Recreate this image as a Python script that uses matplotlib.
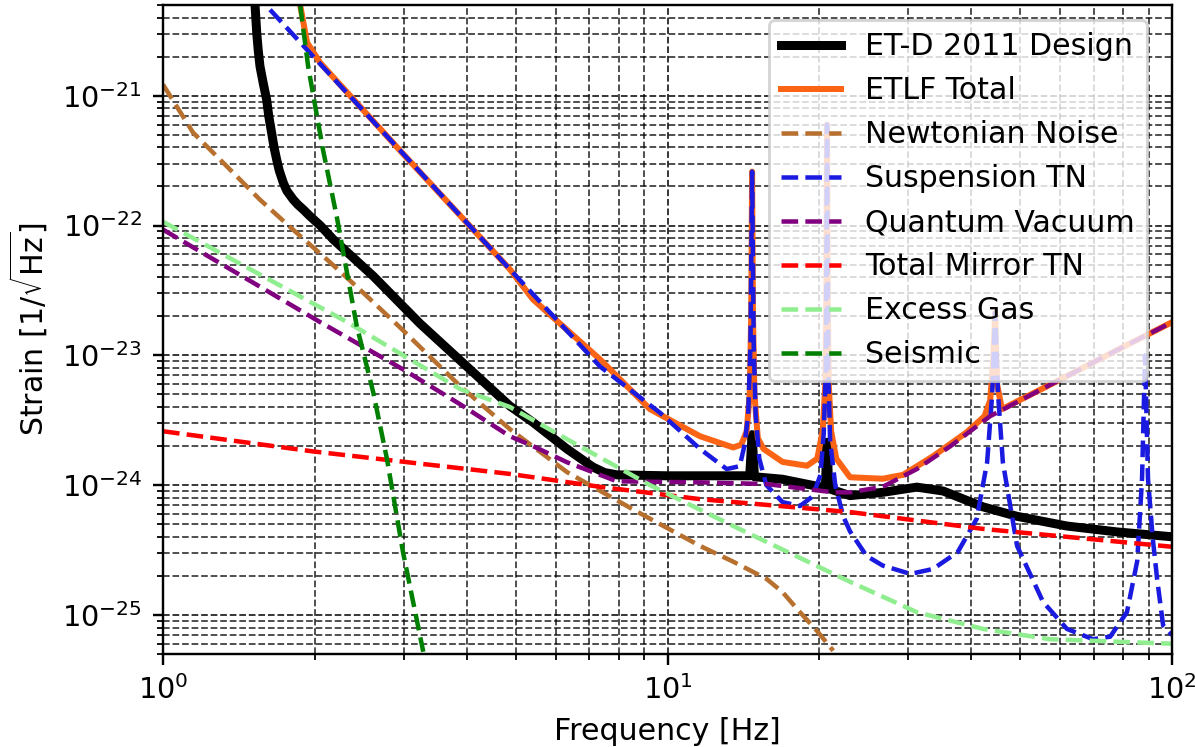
import matplotlib
matplotlib.use("Agg")
import matplotlib.pyplot as plt

# ET-D 2011 design sensitivity
etd_f = [1.522, 1.534, 1.545, 1.557, 1.58, 1.605, 1.62, 1.642, 1.66, 1.680, 1.70, 1.732,
         1.76, 1.813, 1.85, 1.90, 1.956, 2.05, 2.176, 2.612, 3.23, 4.87, 5.41, 6.32,
         7.11, 7.5, 7.94, 9.97, 13.5, 14.55, 14.71, 14.87, 16.9, 19.8, 20.55, 20.71,
         20.87, 23.0, 26.7, 31.2, 35.2, 42.2, 49.3, 61.9, 77.8, 100]
etd_h = [5.0e-21, 3.03e-21, 2.2e-21, 1.68e-21, 1.25e-21, 9.3e-22, 7.0e-22, 5.16e-22,
         4.0e-22, 3.22e-22, 2.65e-22, 2.13e-22, 1.85e-22, 1.58e-22, 1.45e-22, 1.32e-22,
         1.18e-22, 1.0e-22, 7.8e-23, 4.07e-23, 1.76e-23, 4.07e-24, 3.05e-24, 1.9e-24,
         1.38e-24, 1.25e-24, 1.2e-24, 1.18e-24, 1.18e-24, 1.18e-24, 2.45e-24, 1.16e-24,
         1.11e-24, 9.8e-25, 9.6e-25, 2.14e-24, 9.4e-25, 8.3e-25, 8.8e-25, 9.65e-25,
         9.0e-25, 6.8e-25, 5.75e-25, 4.84e-25, 4.36e-25, 4.0e-25]

# ETLF total
etlf_f = [1.87, 1.93, 2.05, 3.0, 4.87, 5.41, 7.35, 9.23, 11.6, 13.5, 14.0, 14.35, 14.55,
          14.65, 14.71, 14.77, 14.87, 15.1, 15.5, 16.9, 18.9, 19.8, 20.3, 20.55, 20.65,
          20.71, 20.77, 20.87, 21.1, 21.6, 23.0, 26.7, 29.3, 33.6, 39.2, 42.5, 43.6, 44.2,
          44.6, 45.0, 46.0, 60.0, 80.0, 100]
etlf_h = [5.0e-21, 2.57e-21, 1.79e-21, 3.52e-22, 4.6e-23, 2.7e-23, 9.3e-24, 3.85e-24,
          2.38e-24, 1.95e-24, 2.05e-24, 2.6e-24, 5.0e-24, 2.0e-23, 2.6e-22, 2.0e-23,
          5.0e-24, 2.3e-24, 1.9e-24, 1.51e-24, 1.41e-24, 1.6e-24, 2.6e-24, 6.0e-24,
          3.0e-23, 6.0e-22, 3.0e-23, 6.0e-24, 2.6e-24, 1.6e-24, 1.15e-24, 1.12e-24,
          1.2e-24, 1.67e-24, 2.56e-24, 3.4e-24, 4.5e-24, 9.0e-24, 2.14e-23, 6.0e-24,
          3.85e-24, 6.5e-24, 1.16e-23, 1.8e-23]

# Newtonian noise
nn_f = [1.0, 1.147, 1.339, 1.557, 1.81, 2.11, 2.458, 2.95, 3.88, 4.87, 6.32, 8.54, 11.6,
        13.5, 15.7, 16.9, 18.3, 19.8, 21.3]
nn_h = [1.22e-21, 5.2e-22, 2.85e-22, 1.58e-22, 9.3e-23, 5.5e-23, 3.2e-23, 1.64e-23,
        5.8e-24, 2.7e-24, 1.26e-24, 6.5e-25, 3.4e-25, 2.57e-25, 1.9e-25, 1.5e-25, 1.05e-25,
        7.5e-26, 5.3e-26]

# Suspension thermal noise
sus_f = [1.63, 4.87, 7.35, 9.67, 11.6, 13.1, 13.9, 14.2, 14.45, 14.6, 14.71, 14.82, 14.95,
         15.2, 15.7, 16.9, 18.3, 19.4, 20.1, 20.4, 20.6, 20.71, 20.82, 21.0, 21.5, 22.3,
         23.0, 24.8, 26.7, 30.3, 33.6, 37.6, 41.0, 43.0, 44.0, 44.6, 45.2, 46.2, 49.3,
         55.5, 61.9, 69.7, 75.4, 81.4, 85.3, 87.2, 88.4, 89.6, 91.5, 93.4, 96.0, 100]
sus_h = [4.6e-21, 4.6e-23, 8.2e-24, 3.6e-24, 1.9e-24, 1.33e-24, 1.4e-24, 2.0e-24, 3.5e-24,
         1.2e-23, 2.6e-22, 1.2e-23, 3.5e-24, 1.6e-24, 1.0e-24, 7.4e-25, 6.9e-25, 8.2e-25,
         1.2e-24, 2.5e-24, 8.0e-24, 6.0e-22, 8.0e-24, 2.2e-24, 1.0e-24, 5.75e-25, 4.4e-25,
         2.85e-25, 2.4e-25, 2.07e-25, 2.26e-25, 3.05e-25, 5.5e-25, 1.5e-24, 5.0e-24,
         2.14e-23, 5.0e-24, 1.5e-24, 3.4e-25, 1.26e-25, 7.8e-26, 6.5e-26, 6.8e-26,
         1.05e-25, 2.6e-25, 1.12e-24, 1.0e-23, 1.12e-24, 4.0e-25, 1.9e-25, 8.3e-26, 7.0e-26]

# Quantum vacuum
qv_f = [1.0, 2.05, 2.99, 3.88, 4.87, 5.41, 6.32, 7.94, 11.6, 15.7, 21.3, 23.0, 26.7, 31.2,
        36.4, 43.6, 60.0, 80.0, 100]
qv_h = [9.3e-23, 1.8e-23, 7.8e-24, 4.2e-24, 2.38e-24, 2.0e-24, 1.5e-24, 1.07e-24, 1.05e-24,
        1.02e-24, 8.8e-25, 8.8e-25, 9.7e-25, 1.33e-24, 2.0e-24, 3.4e-24, 6.5e-24,
        1.16e-23, 1.8e-23]

# Total mirror thermal noise
mir_f = [1.0, 1.98, 4.87, 7.35, 11.6, 23.0, 42.2, 100]
mir_h = [2.6e-24, 1.82e-24, 1.22e-24, 9.7e-25, 7.8e-25, 6.2e-25, 4.6e-25, 3.35e-25]

# Excess gas
gas_f = [1.0, 2.32, 3.88, 4.87, 6.32, 9.23, 13.5, 23.0, 31.2, 42.2, 57.3, 100]
gas_h = [1.07e-22, 1.8e-23, 5.5e-24, 4.0e-24, 2.26e-24, 1.0e-24, 4.84e-25, 1.8e-25,
         1.05e-25, 7.8e-26, 6.5e-26, 6.0e-26]

# Seismic
seis_f = [1.87, 1.94, 2.075, 2.21, 2.42, 2.61, 2.78, 2.99, 3.28]
seis_h = [5.0e-21, 1.67e-21, 3.85e-22, 1.17e-22, 1.7e-23, 5.2e-24, 1.58e-24, 3.05e-25,
          5.2e-26]

fig = plt.figure(figsize=(1195 / 216, 747 / 216), dpi=216)
ax = fig.add_axes([0.1364, 0.1245, 0.8444, 0.8688])

ax.loglog(etd_f, etd_h, color='black', lw=3, label='ET-D 2011 Design')
ax.loglog(etlf_f, etlf_h, color='#fa6414', lw=2, label='ETLF Total')
ax.loglog(nn_f, nn_h, '--', color='#b8702f', lw=1.5, label='Newtonian Noise')
ax.loglog(sus_f, sus_h, '--', color='#1a1ae0', lw=1.5, label='Suspension TN')
ax.loglog(qv_f, qv_h, '--', color='purple', lw=1.5, label='Quantum Vacuum')
ax.loglog(mir_f, mir_h, '--', color='red', lw=1.5, label='Total Mirror TN')
ax.loglog(gas_f, gas_h, '--', color='lightgreen', lw=1.5, label='Excess Gas')
ax.loglog(seis_f, seis_h, '--', color='green', lw=1.5, label='Seismic')

ax.set_xlim(1, 100)
ax.set_ylim(5e-26, 5e-21)
ax.grid(True, which='major', ls='--', color='k', lw=0.6, alpha=0.85)
ax.grid(True, which='minor', ls='--', color='k', lw=0.6, alpha=0.75)
ax.tick_params(labelsize=9.6)

ax.set_xlabel('Frequency [Hz]')
ax.set_ylabel(r'Strain [1/$\sqrt{\rm Hz}$]')
ax.legend(loc='upper right', bbox_to_anchor=(0.99, 1.0))

fig.savefig('out.png', dpi=216)
